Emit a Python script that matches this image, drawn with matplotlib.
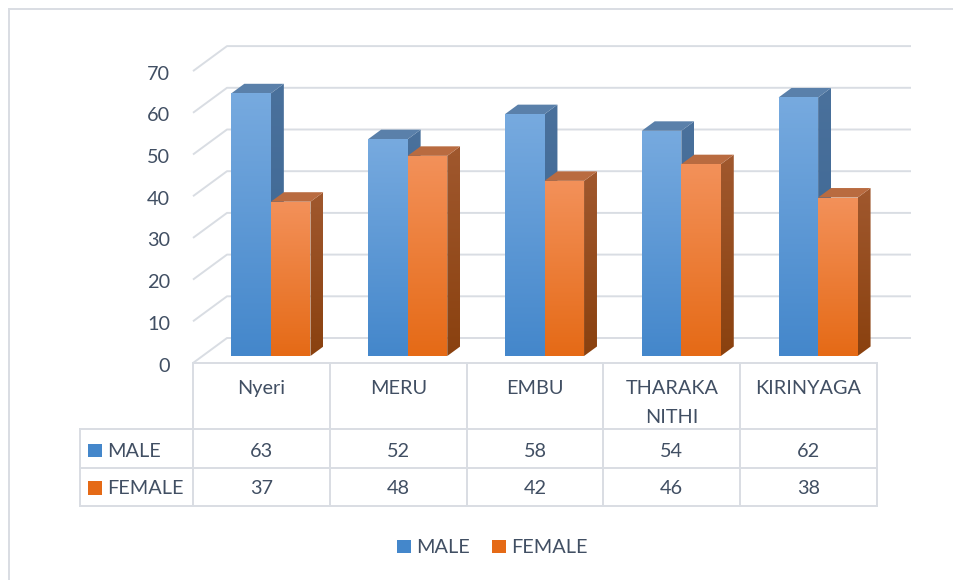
import numpy as np
import matplotlib.pyplot as plt
from matplotlib.patches import Polygon, Rectangle
from matplotlib.colors import LinearSegmentedColormap

categories = ["Nyeri", "MERU", "EMBU", "THARAKA\nNITHI", "KIRINYAGA"]
series_names = ["MALE", "FEMALE"]
male = [63, 52, 58, 54, 62]
female = [37, 48, 42, 46, 38]
y_ticks = [0, 10, 20, 30, 40, 50, 60, 70]

plt.rcParams['font.family'] = ['Lato', 'DejaVu Sans']
TEXT = '#414F63'
GRID = '#D9DDE3'
FS = 14.3

# face colours: front (top, bottom), side (top, bottom), top
styles = [
    {'front': ('#77AADF', '#4487CB'), 'side': ('#4A719C', '#3A6491'), 'top': '#5A80AA'},
    {'front': ('#F3915A', '#E56A16'), 'side': ('#A0582E', '#8A410F'), 'top': '#B96B40'},
]

# layout, in pixels of the 954x580 picture
W, H = 954, 580
X0, Y0 = 193, 363        # front-left corner of the floor
CAT = 136.8              # px per category
UNIT = 4.17              # px per value unit
DEPTH_X, DEPTH_Y = 34, 25
BAR_W = 0.289            # in category units
Z0, Z1 = 0.28, 0.66      # bar depth (front, back) as fraction of floor depth

fig = plt.figure(figsize=(W / 100, H / 100), dpi=100)
ax = fig.add_axes([0, 0, 1, 1])
ax.axis('off')

dxu = DEPTH_X / CAT
dyu = DEPTH_Y / UNIT


def proj(x, v, z):
    return (x + z * dxu, v + z * dyu)


def pxv(p):
    # pixel offset below the floor -> value units
    return -p / UNIT


def pxx(p):
    return (p - X0) / CAT


def shade(poly, c_top, c_bot, z):
    xs, ys = zip(*poly)
    cmap = LinearSegmentedColormap.from_list('g', [c_bot, c_top])
    grad = np.linspace(0, 1, 128).reshape(-1, 1)
    im = ax.imshow(grad, cmap=cmap, origin='lower', aspect='auto',
                   extent=(min(xs), max(xs), min(ys), max(ys)),
                   zorder=z, interpolation='bilinear')
    patch = Polygon(poly, closed=True, facecolor='none', edgecolor='none')
    ax.add_patch(patch)
    im.set_clip_path(patch)


n = len(categories)

# walls and floor grid
for v in y_ticks:
    pts = [proj(0, v, 0), proj(0, v, 1), proj(n, v, 1)]
    ax.plot(*zip(*pts), color=GRID, lw=1.4, zorder=1, solid_capstyle='butt')
    ax.text(pxx(170), v - 8.5 / UNIT, str(v), ha='right', va='baseline',
            fontsize=FS, color=TEXT)

# bars
zo = 2
for i in range(n):
    for s, vals in enumerate([male, female]):
        val = vals[i]
        st = styles[s]
        xl = i + 0.5 - BAR_W + s * BAR_W
        xr = xl + BAR_W
        side = [proj(xr, 0, Z0), proj(xr, 0, Z1), proj(xr, val, Z1), proj(xr, val, Z0)]
        shade(side, st['side'][0], st['side'][1], zo)
        top = [proj(xl, val, Z0), proj(xr, val, Z0), proj(xr, val, Z1), proj(xl, val, Z1)]
        ax.add_patch(Polygon(top, closed=True, facecolor=st['top'], edgecolor='none', zorder=zo + 0.1))
        front = [proj(xl, 0, Z0), proj(xr, 0, Z0), proj(xr, val, Z0), proj(xl, val, Z0)]
        shade(front, st['front'][0], st['front'][1], zo + 0.2)
        zo += 1

# data table
row_bottoms = [pxv(66), pxv(105), pxv(143)]
x_left = pxx(80)
ax.plot([0, n], [0, 0], color=GRID, lw=1.4, zorder=1)
for rb in row_bottoms:
    ax.plot([x_left, n], [rb, rb], color=GRID, lw=1.4, zorder=1)
for i in range(n + 1):
    ax.plot([i, i], [0, row_bottoms[-1]], color=GRID, lw=1.4, zorder=1)
ax.plot([x_left, x_left], [row_bottoms[0], row_bottoms[-1]], color=GRID, lw=1.4, zorder=1)

for i, c in enumerate(categories):
    for k, line in enumerate(c.split('\n')):
        ax.text(i + 0.5, pxv(31 + 29 * k), line, ha='center', va='baseline',
                fontsize=FS, color=TEXT)

sq = 13.5 / UNIT
for s, (name, vals) in enumerate(zip(series_names, [male, female])):
    base = pxv(94 + 37.5 * s)
    for i, v in enumerate(vals):
        ax.text(i + 0.5, base, str(v), ha='center', va='baseline', fontsize=FS, color=TEXT)
    ax.add_patch(Rectangle((pxx(88), base), 14 / CAT, sq,
                           facecolor=styles[s]['front'][1], edgecolor='none'))
    ax.text(pxx(107), base, name, ha='left', va='baseline', fontsize=FS, color=TEXT)

# legend
leg_base = pxv(190)
for s, (name, x_sq) in enumerate(zip(series_names, [397, 492])):
    ax.add_patch(Rectangle((pxx(x_sq), leg_base), 14 / CAT, sq,
                           facecolor=styles[s]['front'][1], edgecolor='none'))
    ax.text(pxx(x_sq + 19), leg_base, name, ha='left', va='baseline', fontsize=FS, color=TEXT)

# chart border
fig.add_artist(plt.Line2D([9 / W, 9 / W], [0, 1 - 9 / H], color=GRID, lw=1.4))
fig.add_artist(plt.Line2D([9 / W, 1], [1 - 9 / H, 1 - 9 / H], color=GRID, lw=1.4))

ax.set_xlim(-X0 / CAT, (W - X0) / CAT)
ax.set_ylim((Y0 - H) / UNIT, Y0 / UNIT)

fig.savefig('out.png', dpi=100)
